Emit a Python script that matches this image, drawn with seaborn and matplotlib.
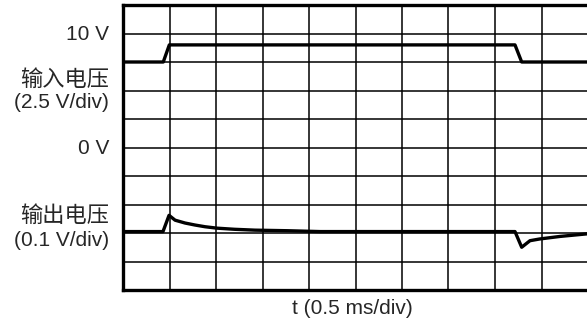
import matplotlib
matplotlib.use("Agg")
import matplotlib.pyplot as plt
import seaborn as sns
import pandas as pd
import numpy as np

# ---- data ----
# input channel: time (ms) and voltage (V); 2.5 V/div, 0 V at division 5
t_in = [0.0, 0.433, 0.498, 4.215, 4.287, 5.0]
v_in = [7.5, 7.5, 9.0, 9.0, 7.5, 7.5]

# output channel: time (ms) and deviation (mV); 0.1 V/div, baseline at division 2.05
t_out = [0.0, 0.43, 0.495, 0.56, 0.667, 0.774, 0.882, 1.01, 1.20, 1.42, 1.77, 2.12,
         4.215, 4.287, 4.376, 4.48, 4.70, 4.99]
v_out = [0, 0, 57, 40, 30, 23, 17, 12, 8, 5, 3, 0,
         0, -55, -32, -26, -17, -8]

ms_per_div = 0.5
in_v_per_div = 2.5
in_zero_div = 5.0
out_mv_per_div = 100.0
out_zero_div = 2.05

sns.set_theme(style="white")
plt.rcParams['font.family'] = ['Liberation Sans', 'Noto Sans CJK SC', 'DejaVu Sans']

df_in = pd.DataFrame({"x": np.array(t_in) / ms_per_div,
                      "y": np.array(v_in) / in_v_per_div + in_zero_div,
                      "ch": "in"})
df_out = pd.DataFrame({"x": np.array(t_out) / ms_per_div,
                       "y": np.array(v_out) / out_mv_per_div + out_zero_div,
                       "ch": "out"})
df = pd.concat([df_in, df_out], ignore_index=True)

fig = plt.figure(figsize=(5.87, 3.21), dpi=100)
ax = fig.add_axes([123 / 587, 1 - 290 / 321, 465 / 587, 285 / 321])

for i in range(1, 10):
    ax.axvline(i, color="black", lw=1.1, zorder=1)
    ax.axhline(i, color="black", lw=1.1, zorder=1)

sns.lineplot(data=df, x="x", y="y", units="ch", estimator=None, sort=False,
             color="black", lw=2.4, ax=ax, zorder=3)

ax.set_xlim(0, 10)
ax.set_ylim(0, 10)
ax.set_xticks([])
ax.set_yticks([])
ax.set_xlabel("")
ax.set_ylabel("")
for s in ["left", "top", "bottom"]:
    ax.spines[s].set_visible(True)
    ax.spines[s].set_color("black")
    ax.spines[s].set_linewidth(2.4)
ax.spines["right"].set_visible(False)

fs = 15
fs_cjk = 16
cjk = ['Noto Sans CJK SC', 'Liberation Sans']
xr = 109 / 587
def fy(py):
    return 1 - py / 321

fig.text(xr, fy(34), "10 V", ha="right", va="center", fontsize=fs)
fig.text(xr, fy(79), "输入电压", ha="right", va="center", fontsize=fs_cjk, family=cjk)
fig.text(xr, fy(102), "(2.5 V/div)", ha="right", va="center", fontsize=fs)
fig.text(xr, fy(148.5), "0 V", ha="right", va="center", fontsize=fs)
fig.text(xr, fy(215), "输出电压", ha="right", va="center", fontsize=fs_cjk, family=cjk)
fig.text(xr, fy(241), "(0.1 V/div)", ha="right", va="center", fontsize=fs)
fig.text(352 / 587, fy(308), "t (0.5 ms/div)", ha="center", va="center", fontsize=fs)

fig.savefig("out.png", dpi=100)
